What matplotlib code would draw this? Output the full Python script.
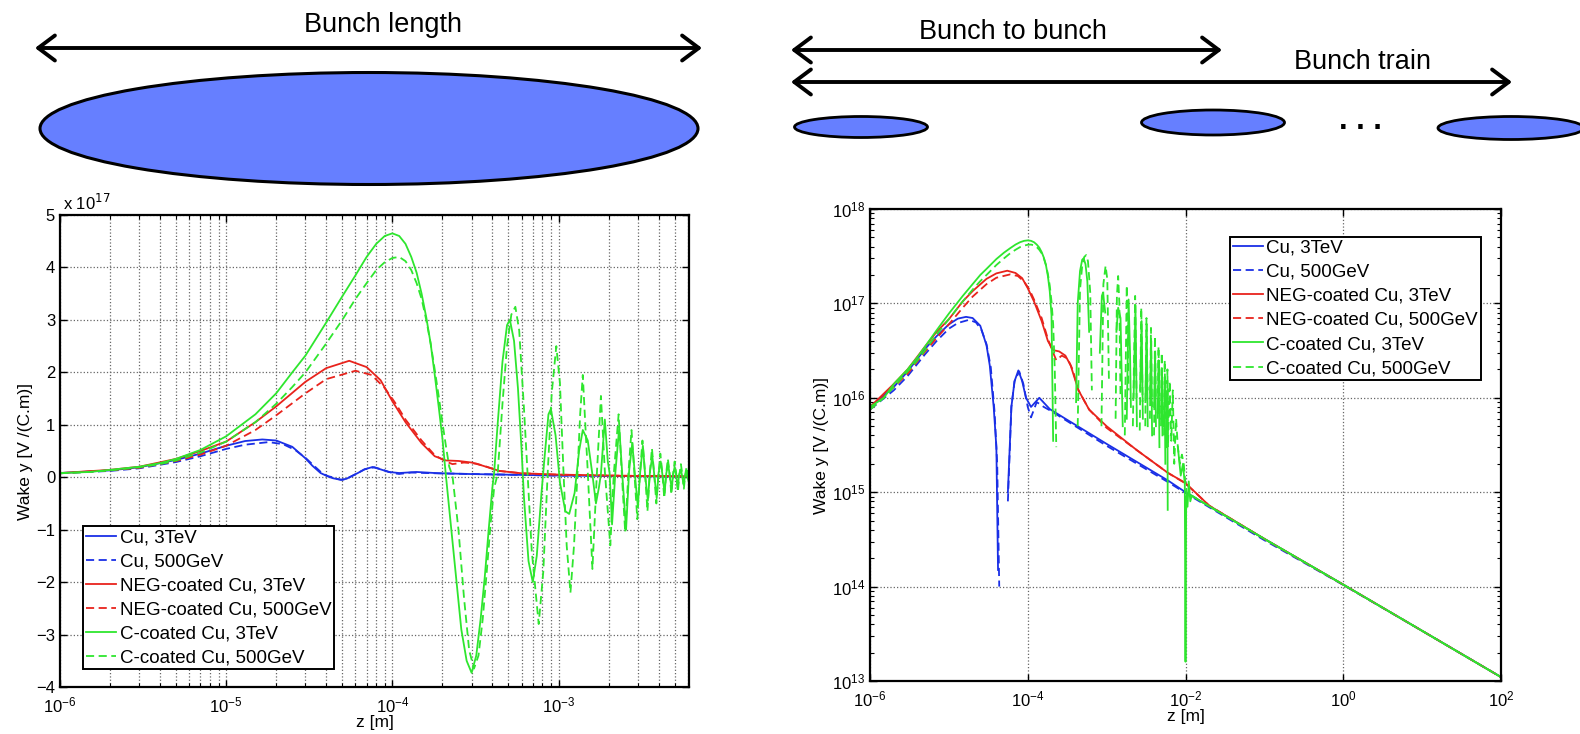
import numpy as np
import matplotlib
matplotlib.use("Agg")
import matplotlib.pyplot as plt
from matplotlib.patches import Ellipse
from matplotlib.ticker import NullLocator, FixedLocator, LogLocator, NullFormatter

plt.rcParams['font.family'] = ['Liberation Sans', 'DejaVu Sans']

# ---------------- data (wake in units of 1e17 V/(C.m)) ----------------
labels = ["Cu, 3TeV", "Cu, 500GeV", "NEG-coated Cu, 3TeV",
          "NEG-coated Cu, 500GeV", "C-coated Cu, 3TeV", "C-coated Cu, 500GeV"]

z_cu3 = [1e-6, 2e-6, 3e-6, 5e-6, 7e-6, 1e-5, 1.3e-5, 1.65e-5, 2e-5, 2.5e-5, 3e-5, 3.3e-5,
         3.7e-5, 4.0e-5, 4.2e-5, 4.4e-5, 4.9e-5, 5.3e-5, 5.6e-5, 6.2e-5, 6.8e-5, 7.6e-5,
         8.5e-5, 9.5e-5, 1.1e-4, 1.4e-4, 1.9e-4, 3e-4, 1e-3, 6e-3, 1e-2, 1e-1, 1, 10, 100]
w_cu3 = [0.08, 0.13, 0.19, 0.33, 0.45, 0.60, 0.69, 0.72, 0.70, 0.58, 0.36, 0.22,
         0.08, 0.03, 0.0015, -0.02, -0.05, -0.03, 0.01, 0.08, 0.15, 0.195,
         0.15, 0.10, 0.08, 0.10, 0.076, 0.06, 0.0325, 0.0133, 0.010, 0.0032, 0.00105, 0.00034, 0.00011]

z_cu5 = [1e-6, 2e-6, 3e-6, 5e-6, 7e-6, 1e-5, 1.3e-5, 1.8e-5, 2.2e-5, 2.6e-5, 3e-5, 3.4e-5,
         3.8e-5, 4.1e-5, 4.35e-5, 4.6e-5, 5e-5, 5.3e-5, 5.6e-5, 6.2e-5, 6.8e-5, 7.8e-5,
         8.8e-5, 1e-4, 1.1e-4, 1.3e-4, 1.6e-4, 2e-4, 1e-3, 6e-3, 1e-2, 1e-1, 1, 10, 100]
w_cu5 = [0.075, 0.12, 0.17, 0.29, 0.40, 0.54, 0.62, 0.67, 0.63, 0.52, 0.37, 0.21,
         0.07, 0.02, 0.001, -0.03, -0.05, -0.03, 0.008, 0.08, 0.15, 0.19,
         0.14, 0.08, 0.062, 0.09, 0.08, 0.072, 0.031, 0.0128, 0.0098, 0.0031, 0.00104, 0.00034, 0.00011]

z_neg3 = [1e-6, 2e-6, 3e-6, 5e-6, 7e-6, 1e-5, 1.5e-5, 2e-5, 3e-5, 4e-5, 5.5e-5, 7e-5, 8.5e-5,
          1e-4, 1.2e-4, 1.5e-4, 1.8e-4, 2.1e-4, 2.5e-4, 3e-4, 3.5e-4, 4.4e-4, 6e-4, 1e-3,
          2.4e-3, 6e-3, 1e-2, 2e-2, 1e-1, 1, 10, 100]
w_neg3 = [0.08, 0.14, 0.2, 0.35, 0.5, 0.68, 1.05, 1.35, 1.82, 2.08, 2.22, 2.1, 1.85,
          1.45, 1.05, 0.65, 0.4, 0.32, 0.31, 0.28, 0.22, 0.12, 0.075, 0.05,
          0.028, 0.016, 0.0125, 0.0072, 0.0032, 0.00105, 0.00034, 0.00011]

z_neg5 = [1e-6, 2e-6, 3e-6, 5e-6, 7e-6, 1e-5, 1.5e-5, 2e-5, 3e-5, 4e-5, 6e-5, 7.5e-5, 9e-5,
          1.05e-4, 1.2e-4, 1.5e-4, 1.8e-4, 2.1e-4, 2.3e-4, 2.7e-4, 3.2e-4, 3.7e-4, 4.4e-4,
          6e-4, 1e-3, 2.4e-3, 6e-3, 1e-2, 2e-2, 1e-1, 1, 10, 100]
w_neg5 = [0.075, 0.13, 0.18, 0.31, 0.43, 0.6, 0.9, 1.18, 1.6, 1.87, 2.03, 1.95, 1.7,
          1.4, 1.1, 0.7, 0.42, 0.3, 0.25, 0.28, 0.26, 0.2, 0.12,
          0.075, 0.048, 0.028, 0.016, 0.0124, 0.0072, 0.0032, 0.00105, 0.00034, 0.00011]

z_c3 = [1e-6, 1.5e-6, 2e-6, 3e-6, 4e-6, 5e-6, 7e-6, 1e-5, 1.5e-5, 2e-5, 2.5e-5, 3e-5, 4e-5,
        5e-5, 6e-5, 7e-5, 8e-5, 9e-5, 1e-4, 1.1e-4, 1.2e-4, 1.3e-4, 1.4e-4, 1.5e-4, 1.6e-4,
        1.7e-4, 1.8e-4, 1.9e-4, 2.0e-4, 2.1e-4, 2.2e-4, 2.4e-4, 2.6e-4, 2.8e-4, 3.0e-4,
        3.2e-4, 3.4e-4, 3.6e-4, 3.8e-4, 4.0e-4, 4.1e-4, 4.3e-4, 4.6e-4, 4.9e-4, 5.1e-4,
        5.4e-4, 5.7e-4, 6.0e-4, 6.2e-4, 6.6e-4, 7.0e-4, 7.4e-4, 7.9e-4, 8.2e-4, 8.7e-4,
        9.0e-4, 9.6e-4, 1.02e-3, 1.1e-3, 1.16e-3, 1.25e-3, 1.33e-3, 1.4e-3, 1.5e-3, 1.6e-3,
        1.68e-3, 1.75e-3, 1.8e-3, 1.9e-3, 1.98e-3, 2.03e-3, 2.1e-3, 2.2e-3, 2.32e-3, 2.42e-3,
        2.55e-3, 2.66e-3, 2.78e-3, 2.88e-3, 3.0e-3, 3.1e-3, 3.22e-3, 3.32e-3, 3.45e-3, 3.55e-3,
        3.67e-3, 3.77e-3, 3.9e-3, 4.0e-3, 4.12e-3, 4.22e-3, 4.35e-3, 4.45e-3, 4.57e-3, 4.67e-3,
        4.8e-3, 4.9e-3, 5.0e-3, 5.1e-3, 5.22e-3, 5.32e-3, 5.45e-3, 5.55e-3, 5.67e-3, 5.77e-3,
        5.9e-3, 5.95e-3, 6.1e-3, 6.3e-3, 6.6e-3, 7.0e-3, 7.5e-3, 8.0e-3, 8.7e-3, 9.3e-3,
        9.8e-3, 1.0e-2, 1.02e-2, 1.06e-2, 1.1e-2, 1.15e-2, 1.2e-2, 1.5e-2, 2e-2, 1e-1, 1, 10, 100]
w_c3 = [0.08, 0.1, 0.14, 0.2, 0.27, 0.35, 0.52, 0.78, 1.2, 1.6, 2.0, 2.32, 2.95,
        3.45, 3.85, 4.2, 4.45, 4.6, 4.65, 4.6, 4.45, 4.2, 3.9, 3.5, 3.05,
        2.55, 1.95, 1.35, 0.75, 0.035, -0.6, -1.8, -2.9, -3.5, -3.73,
        -3.4, -2.7, -1.9, -1.0, -0.2, 0.09, 1.0, 2.2, 2.9, 3.0,
        2.6, 1.7, 0.5, -0.4, -1.6, -2.0, -1.5, -0.3, 0.3, 1.2,
        1.3, 0.8, -0.1, -0.65, -0.7, -0.3, 0.5, 0.9, 0.7, 0.05,
        -0.5, -0.2, 0.06, 1.1, 0.3, 0.08, -0.9, 0.1, 0.95, 0.05,
        -1.0, 0.12, 0.65, 0.06, -0.55, 0.09, 0.6, 0.05, -0.45, 0.1,
        0.4, 0.04, -0.4, 0.08, 0.3, 0.05, -0.3, 0.07, 0.25, 0.03,
        -0.22, 0.06, 0.2, 0.04, -0.2, 0.05, 0.15, 0.02, -0.15, 0.03,
        0.12, 0.0065, -0.1, 0.08, -0.06, 0.05, -0.03, 0.03, 0.015, 0.02,
        0.012, 0.00016, 0.009, 0.007, 0.013, 0.008, 0.0092, 0.0082, 0.0071, 0.0032, 0.00105, 0.00034, 0.00011]

z_c5 = [1e-6, 1.5e-6, 2e-6, 3e-6, 4e-6, 5e-6, 7e-6, 1e-5, 1.5e-5, 2e-5, 2.5e-5, 3e-5, 4e-5,
        5e-5, 6e-5, 7e-5, 8e-5, 9e-5, 1e-4, 1.1e-4, 1.2e-4, 1.3e-4, 1.4e-4, 1.5e-4, 1.6e-4,
        1.7e-4, 1.8e-4, 1.9e-4, 2.0e-4, 2.1e-4, 2.2e-4, 2.3e-4, 2.5e-4, 2.7e-4, 2.9e-4,
        3.1e-4, 3.3e-4, 3.5e-4, 3.7e-4, 3.9e-4, 4.1e-4, 4.3e-4, 4.6e-4, 4.9e-4, 5.2e-4,
        5.5e-4, 5.8e-4, 6.2e-4, 6.5e-4, 6.9e-4, 7.6e-4, 8.1e-4, 8.6e-4, 9.1e-4, 9.7e-4,
        1.02e-3, 1.07e-3, 1.12e-3, 1.18e-3, 1.24e-3, 1.3e-3, 1.35e-3, 1.4e-3, 1.45e-3, 1.5e-3,
        1.6e-3, 1.7e-3, 1.8e-3, 1.9e-3, 2.05e-3, 2.15e-3, 2.3e-3, 2.4e-3, 2.52e-3, 2.63e-3,
        2.75e-3, 2.86e-3, 2.98e-3, 3.09e-3, 3.2e-3, 3.31e-3, 3.43e-3, 3.54e-3, 3.65e-3, 3.76e-3,
        3.88e-3, 3.99e-3, 4.1e-3, 4.21e-3, 4.33e-3, 4.44e-3, 4.55e-3, 4.66e-3, 4.78e-3, 4.89e-3,
        5.0e-3, 5.11e-3, 5.23e-3, 5.34e-3, 5.45e-3, 5.56e-3, 5.68e-3, 5.79e-3, 5.9e-3, 6.0e-3,
        6.3e-3, 6.6e-3, 6.9e-3, 7.2e-3, 7.6e-3, 8.0e-3, 8.5e-3, 9.0e-3, 9.5e-3, 1.0e-2,
        1.05e-2, 1.1e-2, 1.2e-2, 1.5e-2, 2e-2, 1e-1, 1, 10, 100]
w_c5 = [0.075, 0.1, 0.13, 0.19, 0.25, 0.32, 0.47, 0.68, 1.05, 1.4, 1.72, 2.0, 2.55,
        3.0, 3.4, 3.7, 3.95, 4.1, 4.18, 4.2, 4.12, 3.95, 3.7, 3.4, 3.0,
        2.55, 2.05, 1.55, 1.05, 0.6, 0.2, 0.03, -1.0, -2.3, -3.3,
        -3.65, -3.4, -2.7, -1.8, -0.9, -0.2, 0.05, 1.4, 2.5, 3.1,
        3.25, 2.8, 1.3, 0.12, -1.4, -2.8, -1.8, 0.05, 1.6, 2.5,
        1.8, 0.15, -1.3, -2.2, -1.3, 0.06, 1.2, 1.95, 1.0, 0.1,
        -1.75, 0.04, 1.55, 0.12, -1.3, 0.05, 1.2, 0.1, -1.05, 0.045,
        0.9, 0.09, -0.8, 0.05, 0.7, 0.12, -0.65, 0.06, 0.55, 0.08,
        -0.5, 0.04, 0.45, 0.1, -0.4, 0.06, 0.35, 0.08, -0.33, 0.05,
        0.3, 0.07, -0.28, 0.04, 0.25, 0.06, -0.22, 0.05, 0.2, 0.03,
        0.15, 0.035, 0.12, 0.02, 0.06, 0.03, 0.02, 0.025, 0.02, 0.012,
        0.009, 0.0095, 0.0092, 0.0082, 0.0071, 0.0032, 0.00105, 0.00034, 0.00011]

series_z = [z_cu3, z_cu5, z_neg3, z_neg5, z_c3, z_c5]
series_w = [w_cu3, w_cu5, w_neg3, w_neg5, w_c3, w_c5]
colors = ['#1a2fe6', '#1a2fe6', '#e8231c', '#e8231c', '#2ee62e', '#2ee62e']
styles = ['-', '--', '-', '--', '-', '--']

W, H = 1580, 734
fig = plt.figure(figsize=(W / 100, H / 100), dpi=100)

# ---------------- top sketch (pixel coordinates) ----------------
ov = fig.add_axes([0, 0, 1, 1])
ov.set_xlim(0, W)
ov.set_ylim(H, 0)
ov.axis('off')
ell_fc = '#667fff'
ov.add_patch(Ellipse((369, 128.5), 658, 112, fc=ell_fc, ec='k', lw=2.2))
ov.add_patch(Ellipse((861, 127), 133, 21, fc=ell_fc, ec='k', lw=2.0))
ov.add_patch(Ellipse((1213, 122.5), 143, 25, fc=ell_fc, ec='k', lw=2.0))
ov.add_patch(Ellipse((1511, 128), 146, 23, fc=ell_fc, ec='k', lw=2.0, clip_on=False))
arrow_kw = dict(arrowstyle='<->,head_length=0.6,head_width=0.45', lw=2.8, color='k',
                shrinkA=0, shrinkB=0, mutation_scale=20)
ov.annotate('', xy=(702, 48), xytext=(35, 48), arrowprops=arrow_kw)
ov.annotate('', xy=(1222, 50), xytext=(791, 50), arrowprops=arrow_kw)
ov.annotate('', xy=(1512, 82), xytext=(791, 82), arrowprops=arrow_kw)
tfam = ['Liberation Sans Narrow', 'Liberation Sans', 'DejaVu Sans']
ov.text(383, 25, 'Bunch length', ha='center', va='center', fontsize=19.5, family=tfam)
ov.text(1013, 32, 'Bunch to bunch', ha='center', va='center', fontsize=19.5, family=tfam)
ov.text(1362, 62, 'Bunch train', ha='center', va='center', fontsize=19.5, family=tfam)
ov.text(1360, 121, '. . .', ha='center', va='center', fontsize=22, fontweight='bold')

# ---------------- axes ----------------
def frac(l, t, r, b):
    return [l / W, 1 - b / H, (r - l) / W, (b - t) / H]

ax1 = fig.add_axes(frac(60, 215, 689, 687))
ax2 = fig.add_axes(frac(870, 209, 1501, 681))

for z, w, c, s, lab in zip(series_z, series_w, colors, styles, labels):
    z = np.asarray(z)
    w = np.asarray(w)
    kw = dict(color=c, lw=1.3, label=lab)
    if s == '--':
        kw['dashes'] = (4.5, 2.5)
    ax1.plot(z, w, **kw)
    ax2.plot(z, w * 1e17, **kw)

# left axes
ax1.set_xscale('log')
ax1.set_xlim(1e-6, 6.1e-3)
ax1.set_ylim(-4, 5)
ax1.set_yticks(range(-4, 6))
ax1.xaxis.set_minor_locator(LogLocator(base=10, subs=np.arange(2, 10)))
ax1.xaxis.set_minor_formatter(NullFormatter())
ax1.grid(True, which='both', axis='x', ls=':', color='0.4', lw=0.9)
ax1.grid(True, which='major', axis='y', ls=':', color='0.4', lw=0.9)
ax1.text(0.004, 1.004, r'x 10$^{17}$', transform=ax1.transAxes, ha='left', va='bottom', fontsize=12)

# right axes
ax2.set_xscale('log')
ax2.set_yscale('log', nonpositive='mask')
ax2.set_xlim(1e-6, 1e2)
ax2.set_ylim(1e13, 1e18)
ax2.xaxis.set_major_locator(FixedLocator([1e-6, 1e-4, 1e-2, 1e0, 1e2]))
ax2.xaxis.set_minor_locator(NullLocator())
ax2.yaxis.set_major_locator(FixedLocator([1e13, 1e14, 1e15, 1e16, 1e17, 1e18]))
ax2.yaxis.set_minor_locator(LogLocator(base=10, subs=np.arange(2, 10)))
ax2.yaxis.set_minor_formatter(NullFormatter())
ax2.grid(True, which='major', ls=':', color='0.4', lw=0.9)

for ax in (ax1, ax2):
    ax.tick_params(which='both', direction='in', top=True, right=True, labelsize=12)
    ax.tick_params(axis='x', which='major', pad=6)
    ax.tick_params(which='major', length=5, width=1)
    ax.tick_params(which='minor', length=3, width=0.8)
    for sp in ax.spines.values():
        sp.set_linewidth(1.6)
    ax.set_xlabel('z [m]', fontsize=12.5, labelpad=0)
    ax.set_ylabel('Wake y [V /(C.m)]', fontsize=12.5, labelpad=2)
    ax.set_axisbelow(True)

leg_kw = dict(fontsize=13.5, frameon=True, fancybox=False, edgecolor='k', framealpha=1,
              handlelength=1.6, handletextpad=0.2, labelspacing=0.37, borderpad=0.15,
              borderaxespad=0)
l1 = ax1.legend(loc='lower left', bbox_to_anchor=(0.0368, 0.0375), **leg_kw)
l2 = ax2.legend(loc='upper right', bbox_to_anchor=(0.968, 0.941), **leg_kw)
for l in (l1, l2):
    l.get_frame().set_linewidth(1.4)

fig.savefig('out.png', dpi=100)
